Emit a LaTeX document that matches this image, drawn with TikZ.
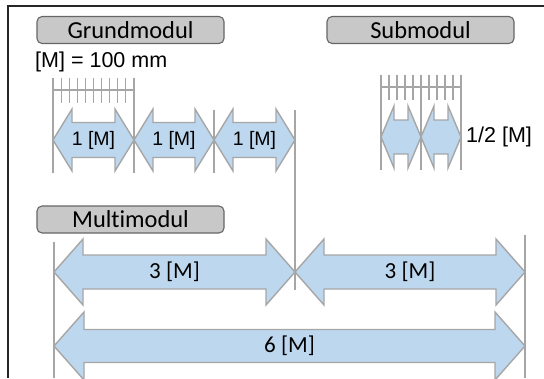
\documentclass[tikz,border=0pt]{standalone}
\usepackage{fontspec}
\setmainfont[Ligatures={NoCommon}]{Carlito}
\newfontfamily\arialfont{Liberation Sans}
\definecolor{arrowblue}{HTML}{BDD7EE}
\definecolor{boxgray}{HTML}{C8C8C8}
\definecolor{guidegray}{HTML}{A6A6A6}
\tikzset{
  frameline/.style={line width=1.5pt, draw=black!85},
  modbox/.style={draw=black!60, fill=boxgray, rounded corners=5pt, line width=1.1pt,
    minimum width=187pt, minimum height=27pt, inner sep=0pt,
    font=\fontsize{24.4}{28}\selectfont},
  guide/.style={draw=guidegray, line width=1.6pt},
  rtick/.style={draw=guidegray, line width=1.1pt},
  darrow/.style={draw=guidegray, fill=arrowblue, line width=1.4pt, line join=miter},
  arlbl/.style={font=\arialfont\fontsize{19.5}{23}\selectfont, inner sep=0pt},
  arlbig/.style={font=\arialfont\fontsize{21.5}{25}\selectfont, inner sep=0pt},
  callbl/.style={font=\fontsize{23}{27}\selectfont, inner sep=0pt},
}
% x1, x2, y-centre, shaft half height, head half height, head length
\newcommand\DArr[6]{%
  \draw[darrow] (#1,#3) -- (#1+#6,#3-#5) -- (#1+#6,#3-#4) -- (#2-#6,#3-#4)
    -- (#2-#6,#3-#5) -- (#2,#3) -- (#2-#6,#3+#5) -- (#2-#6,#3+#4)
    -- (#1+#6,#3+#4) -- (#1+#6,#3+#5) -- cycle;}
\begin{document}
\begin{tikzpicture}[x=1pt,y=-1pt]
\useasboundingbox (0,0) rectangle (544,378);
% frame
\draw[frameline] (8,378) -- (8,6) -- (544,6);

% headers
\node[modbox] (grund) at (130.5,30) {Grundmodul};
\node[modbox] (sub) at (420.5,30) {Submodul};
\node[modbox] (multi) at (130.5,219.5) {Multimodul};
\node[arlbig, anchor=west] (mdef) at (35,62) {[M] = 100 mm};

% Grundmodul guides and ruler
\draw[guide] (53,78) -- (53,173);
\draw[guide] (134,78) -- (134,173);
\draw[guide] (214,110) -- (214,173);
\draw[guide] (295,110) -- (295,290);
\draw[rtick] (53,90) -- (134,90);
\foreach \k in {1,...,9} \draw[rtick] (53+8.1*\k,78) -- (53+8.1*\k,103);

\DArr{53}{134}{140}{17.5}{31}{19}
\DArr{134}{214}{140}{17.5}{31}{19}
\DArr{214}{295}{140}{17.5}{31}{19}
\node[arlbl] (g1) at (93.5,140) {1 [M]};
\node[arlbl] (g2) at (174,140) {1 [M]};
\node[arlbl] (g3) at (254.5,140) {1 [M]};

% Submodul guides and ruler
\draw[guide] (381,75) -- (381,170);
\draw[guide] (421,75) -- (421,170);
\draw[guide] (461,75) -- (461,170);
\draw[rtick] (381,87) -- (461,87);
\foreach \k in {1,...,4} {
  \draw[rtick] (381+8*\k,75) -- (381+8*\k,100);
  \draw[rtick] (421+8*\k,75) -- (421+8*\k,100);
}
\DArr{381}{421}{137}{17}{31}{13}
\DArr{421}{461}{137}{17}{31}{13}
\node[arlbig, anchor=west] (half) at (466,137) {1/2 [M]};

% Multimodul
\draw[guide] (54,242) -- (54,378);
\draw[guide] (525,235) -- (525,378);
\DArr{54}{295}{272}{17}{33}{29}
\DArr{295}{525}{272}{17}{33}{29}
\DArr{54}{525}{346}{16.5}{34}{30}
\node[callbl] (m1) at (174.5,272) {3 [M]};
\node[callbl] (m2) at (410,272) {3 [M]};
\node[callbl] (m3) at (289.5,346) {6 [M]};
\end{tikzpicture}
\end{document}
